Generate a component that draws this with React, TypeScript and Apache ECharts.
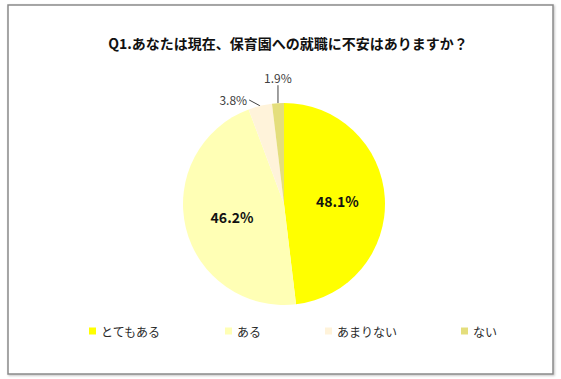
import React, { useEffect, useRef } from "react";
import * as echarts from "echarts";

const titleText = "Q1.あなたは現在、保育園への就職に不安はありますか？";
const categories = ["とてもある", "ある", "あまりない", "ない"];
const values = [48.1, 46.2, 3.8, 1.9];
const colors = ["#FFFF00", "#FFFFB5", "#FFF3DA", "#E4DE7C"];

export default function App() {
  const ref = useRef<HTMLDivElement>(null);
  useEffect(() => {
    if (!ref.current) return;
    const chart = echarts.init(ref.current, null, { renderer: "svg" });
    const font = "'Noto Sans CJK JP', 'Noto Sans', sans-serif";
    const data = categories.map((name, i) => {
      const small = values[i] < 10;
      return {
        name,
        value: values[i],
        itemStyle: { color: colors[i] },
        label: small
          ? { position: "outside", fontSize: 12, fontWeight: "normal", color: "#404040" }
          : { position: "inside", fontSize: 14, fontWeight: "bold", color: "#111" },
        labelLine: small ? { show: true, length: i === 3 ? 18 : 4, length2: i === 3 ? 0 : 10 } : { show: false },
      };
    });
    chart.setOption({
      animation: false,
      backgroundColor: "#ffffff",
      textStyle: { fontFamily: font },
      graphic: [
        {
          type: "rect",
          shape: { x: 8, y: 5, width: 545, height: 369 },
          style: {
            fill: "#fff",
            stroke: "#8a8a8a",
            lineWidth: 1.5,
            shadowColor: "rgba(0,0,0,0.25)",
            shadowBlur: 2,
            shadowOffsetX: 1,
            shadowOffsetY: 1,
          },
          z: -10,
        },
      ],
      title: {
        text: titleText,
        left: 283,
        top: 31,
        textAlign: "center",
        textStyle: { fontFamily: font, fontSize: 14, fontWeight: "bold", color: "#111" },
      },
      legend: {
        data: categories,
        left: 84,
        top: 320,
        itemWidth: 7,
        itemHeight: 7,
        itemGap: 64,
        icon: "rect",
        textStyle: { fontFamily: font, fontSize: 12, color: "#2a2a2a" },
      },
      series: [
        {
          type: "pie",
          center: [284, 204],
          radius: 101,
          startAngle: 90,
          clockwise: true,
          avoidLabelOverlap: false,
          data,
          label: {
            formatter: (p: any) => p.value.toFixed(1) + "%",
            fontFamily: font,
          },
          labelLine: { lineStyle: { color: "#404040", width: 1 } },
          labelLayout: (params: any) => {
            const p = params.labelLinePoints;
            if (!p) return {};
            if (params.dataIndex === 3) {
              const top = [p[0][0], p[1][1]];
              return {
                x: top[0],
                y: top[1] - 8,
                align: "center",
                verticalAlign: "middle",
                labelLinePoints: [p[0], top, top],
              };
            }
            if (params.dataIndex === 2) {
              const end = [p[2][0], p[2][1] - 2];
              return {
                x: end[0] - 2,
                y: end[1],
                align: "right",
                verticalAlign: "middle",
                labelLinePoints: [p[0], end, end],
              };
            }
            return {};
          },
          emphasis: { disabled: true },
        },
      ],
    });
    return () => chart.dispose();
  }, []);
  return (
    <div
      ref={ref}
      style={{ position: "absolute", left: 0, top: 0, width: 561, height: 379 }}
    />
  );
}
